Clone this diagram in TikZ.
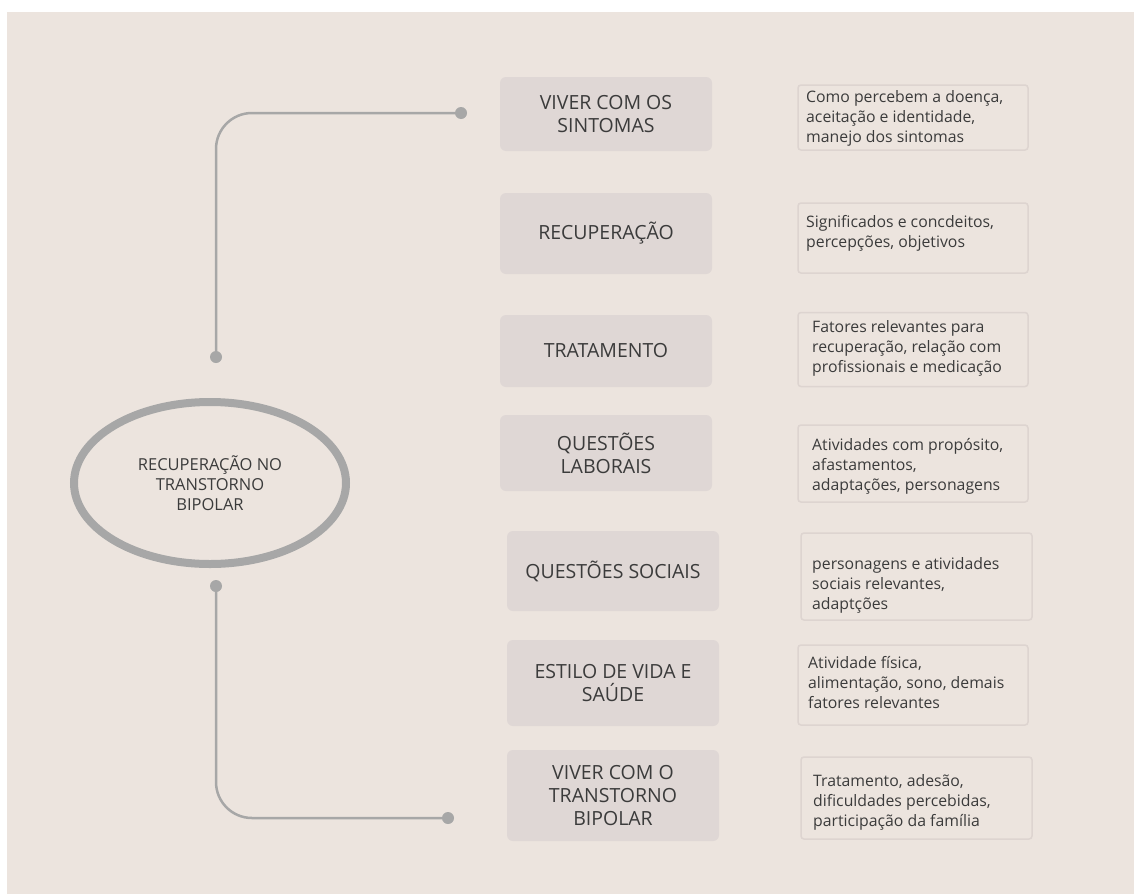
\documentclass[tikz,border=0pt]{standalone}
\usepackage{fontspec}
\setmainfont{Open Sans}
\usetikzlibrary{shapes.geometric,calc}

\definecolor{paper}{HTML}{ECE4DE}
\definecolor{catfill}{HTML}{DFD7D5}
\definecolor{descedge}{HTML}{DDD4D0}
\definecolor{stem}{HTML}{A7A7A7}
\definecolor{ink}{HTML}{3B3B3B}
\definecolor{wire}{HTML}{5C5C5C}

\tikzset{
  hub/.style={ellipse, draw=stem, line width=8pt, minimum width=272pt,
    minimum height=162pt, inner sep=0pt, align=center, text=ink,
    font=\fontsize{16.5}{20}\selectfont},
  catbox/.style={rounded corners=6pt, fill=catfill, inner sep=0pt,
    minimum width=212pt, align=center, text=ink,
    font=\fontsize{19.5}{23}\selectfont},
  descbox/.style={rounded corners=3pt, draw=descedge, line width=1.5pt,
    fill=paper, inner sep=0pt},
  desctext/.style={anchor=west, align=left, inner sep=0pt, text=ink,
    font=\fontsize{15.8}{20}\selectfont},
  stemline/.style={draw=stem, line width=2.5pt, rounded corners=36pt},
  wireline/.style={draw=wire, line width=1.1pt},
  stemdot/.style={circle, fill=stem, minimum size=12pt, inner sep=0pt}
}

\begin{document}
\begin{tikzpicture}[x=1pt, y=-1pt]
  % canvas
  \useasboundingbox (0,0) rectangle (1134,894);
  \fill[white] (0,0) rectangle (1134,894);
  \fill[paper] (7,12) rectangle (1134,894);

  % central theme
  \node[hub] (hub) at (210,483) {RECUPERAÇÃO NO\\TRANSTORNO\\BIPOLAR};

  % stems leaving the hub
  \coordinate (topfoot) at (216,357);
  \coordinate (topend) at (461,113);
  \coordinate (botfoot) at (216,586);
  \coordinate (botend) at (448,818);
  \draw[stemline] (topfoot) |- (topend);
  \draw[stemline] (botfoot) |- (botend);
  \node[stemdot] (dtf) at (topfoot) {};
  \node[stemdot] (dte) at (topend) {};
  \node[stemdot] (dbf) at (botfoot) {};
  \node[stemdot] (dbe) at (botend) {};

  % categories
  \node[catbox, minimum height=74pt] (c1) at (606,114) {VIVER COM OS\\SINTOMAS};
  \node[catbox, minimum height=81pt] (c2) at (606,233.5) {RECUPERAÇÃO};
  \node[catbox, minimum height=72pt] (c3) at (606,351) {TRATAMENTO};
  \node[catbox, minimum height=76pt] (c4) at (606,453) {QUESTÕES\\LABORAIS};
  \node[catbox, minimum height=80pt] (c5) at (613,571) {QUESTÕES SOCIAIS};
  \node[catbox, minimum height=86pt] (c6) at (613,683) {ESTILO DE VIDA E\\SAÚDE};
  \node[catbox, minimum height=91pt] (c7) at (613,795.5) {VIVER COM O\\TRANSTORNO\\BIPOLAR};

  % description frames
  \node[descbox, minimum width=230pt, minimum height=65pt] (b1) at (913,117.5) {};
  \node[descbox, minimum width=230pt, minimum height=70pt] (b2) at (913,238) {};
  \node[descbox, minimum width=230pt, minimum height=74pt] (b3) at (913,349.5) {};
  \node[descbox, minimum width=230pt, minimum height=77pt] (b4) at (913,463.5) {};
  \node[descbox, minimum width=231pt, minimum height=87pt] (b5) at (916.5,576.5) {};
  \node[descbox, minimum width=230pt, minimum height=80pt] (b6) at (913,685) {};
  \node[descbox, minimum width=231pt, minimum height=82pt] (b7) at (916.5,798) {};

  % description texts
  \node[desctext] (t1) at (806,118) {Como percebem a doença,\\aceitação e identidade,\\manejo dos sintomas};
  \node[desctext] (t2) at (806,233) {Significados e concdeitos,\\percepções, objetivos};
  \node[desctext] (t3) at (812,348) {Fatores relevantes para\\recuperação, relação com\\profissionais e medicação};
  \node[desctext] (t4) at (812,466) {Atividades com propósito,\\afastamentos,\\adaptações, personagens};
  \node[desctext] (t5) at (812,585) {personagens e atividades\\sociais relevantes,\\adaptções};
  \node[desctext] (t6) at (808,683) {Atividade física,\\alimentação, sono, demais\\fatores relevantes};
  \node[desctext] (t7) at (813,802) {Tratamento, adesão,\\dificuldades percebidas,\\participação da família};

  % links from categories to descriptions
  \draw[wireline] ($(c1.east)+(0,-8)$) -- ($(c1.east)+(0,-8)$ -| b1.west);
  \draw[wireline] ($(c2.east)+(0,-8)$) -- ($(c2.east)+(0,-8)$ -| b2.west);
  \draw[wireline] ($(c3.east)+(0,1)$) -- ($(c3.east)+(0,1)$ -| b3.west);
  \draw[wireline] ($(c4.east)+(0,-9)$) -- ($(c4.east)+(0,-9)$ -| b4.west);
  \draw[wireline] ($(c5.east)+(0,-1)$) -- ($(c5.east)+(0,-1)$ -| b5.west);
  \draw[wireline] ($(c6.east)+(0,3)$) -- ($(c6.east)+(0,3)$ -| b6.west);
  \draw[wireline] ($(c7.east)+(0,6)$) -- ($(c7.east)+(0,6)$ -| b7.west);
\end{tikzpicture}
\end{document}
